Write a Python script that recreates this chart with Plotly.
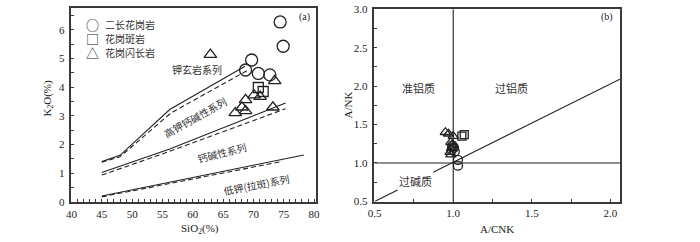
import plotly.graph_objects as go

W, H = 700, 242

# ---------------- data: panel (a) SiO2 vs K2O ----------------
series_names = ["二长花岗岩", "花岗斑岩", "花岗闪长岩"]
legend_glyphs = ["○", "□", "△"]

a_circle_sio2 = [74.4, 74.9, 69.7, 68.7, 70.8, 72.7]
a_circle_k2o = [6.28, 5.43, 4.95, 4.60, 4.48, 4.43]
a_square_sio2 = [70.8, 71.6]
a_square_k2o = [3.99, 3.85]
a_tri_sio2 = [62.9, 73.5, 70.1, 71.1, 68.7, 68.1, 67.0, 68.7, 73.2]
a_tri_k2o = [5.14, 4.22, 3.72, 3.67, 3.56, 3.30, 3.10, 3.17, 3.30]

# series boundaries (solid / dashed)
top_solid_x = [45, 48, 56.2, 68.6]
top_solid_y = [1.40, 1.62, 3.22, 4.73]
top_dash_x = [45, 48, 56.4, 69.2]
top_dash_y = [1.38, 1.57, 3.10, 4.61]
mid_solid_x = [45, 56.2, 75.3]
mid_solid_y = [1.02, 1.84, 3.45]
mid_dash_x = [45, 56.2, 75.3]
mid_dash_y = [0.93, 1.76, 3.25]
low_solid_x = [45, 78.3]
low_solid_y = [0.20, 1.63]
low_dash_x = [45, 74.8]
low_dash_y = [0.17, 1.41]

a_labels = ["钾玄岩系列", "高钾钙碱性系列", "钙碱性系列", "低钾(拉斑)系列"]
a_label_x = [60.7, 60.3, 64.8, 70.5]
a_label_y = [4.62, 2.95, 1.71, 0.61]
a_label_angle = [0, -29, -14, -11]

a_xticks = [40, 45, 50, 55, 60, 65, 70, 75, 80]
a_yticks = [0, 1, 2, 3, 4, 5, 6]

# ---------------- data: panel (b) A/CNK vs A/NK ----------------
b_circle_acnk = [0.995, 1.005, 0.99, 1.01, 1.03, 1.03]
b_circle_ank = [1.23, 1.20, 1.17, 1.15, 1.04, 0.965]
b_square_acnk = [1.055, 1.07]
b_square_ank = [1.35, 1.37]
b_tri_acnk = [0.95, 0.97, 1.00, 0.985, 0.995, 1.00, 0.99, 0.98, 0.985]
b_tri_ank = [1.40, 1.38, 1.35, 1.27, 1.24, 1.21, 1.19, 1.14, 1.11]

b_diag_x = [0.5, 2.06]
b_diag_y = [0.5, 2.09]
b_vline_x = [1.0, 1.0]
b_vline_y = [0.5, 3.0]
b_hline_x = [0.5, 2.06]
b_hline_y = [1.0, 1.0]

b_labels = ["准铝质", "过铝质", "过碱质"]
b_label_x = [0.78, 1.37, 0.76]
b_label_y = [1.98, 1.98, 0.76]

b_xticks = [0.5, 1.0, 1.5, 2.0]
b_yticks = [0.5, 1.0, 1.5, 2.0, 2.5, 3.0]

# ---------------- figure ----------------
LC = "#222222"
FRAME = "#3a3a3a"
SERIF = "Liberation Serif, Times New Roman, serif"
CJK = "Noto Sans CJK SC"

fig = go.Figure()

def line(x, y, xa, ya, dash="solid"):
    fig.add_trace(go.Scatter(x=x, y=y, mode="lines", xaxis=xa, yaxis=ya,
                             line=dict(color=LC, width=1.1, dash=dash),
                             showlegend=False, hoverinfo="skip"))

line(top_solid_x, top_solid_y, "x", "y")
line(top_dash_x, top_dash_y, "x", "y", "5px,3px")
line(mid_solid_x, mid_solid_y, "x", "y")
line(mid_dash_x, mid_dash_y, "x", "y", "5px,3px")
line(low_solid_x, low_solid_y, "x", "y")
line(low_dash_x, low_dash_y, "x", "y", "5px,3px")

line(b_diag_x, b_diag_y, "x2", "y2")
line(b_vline_x, b_vline_y, "x2", "y2")
line(b_hline_x, b_hline_y, "x2", "y2")

fig.add_trace(go.Scatter(x=a_circle_sio2, y=a_circle_k2o, mode="markers", name=series_names[0],
                         marker=dict(symbol="circle-open", size=12, color=LC, line=dict(width=1.3)),
                         xaxis="x", yaxis="y"))
fig.add_trace(go.Scatter(x=a_square_sio2, y=a_square_k2o, mode="markers", name=series_names[1],
                         marker=dict(symbol="square-open", size=10, color=LC, line=dict(width=1.3)),
                         xaxis="x", yaxis="y"))
fig.add_trace(go.Scatter(x=a_tri_sio2, y=a_tri_k2o, mode="markers", name=series_names[2],
                         marker=dict(symbol="triangle-up-open", size=11, color=LC, line=dict(width=1.3)),
                         xaxis="x", yaxis="y"))

fig.add_trace(go.Scatter(x=b_circle_acnk, y=b_circle_ank, mode="markers", name=series_names[0],
                         marker=dict(symbol="circle-open", size=9, color=LC, line=dict(width=1.3)),
                         xaxis="x2", yaxis="y2"))
fig.add_trace(go.Scatter(x=b_square_acnk, y=b_square_ank, mode="markers", name=series_names[1],
                         marker=dict(symbol="square-open", size=8, color=LC, line=dict(width=1.3)),
                         xaxis="x2", yaxis="y2"))
fig.add_trace(go.Scatter(x=b_tri_acnk, y=b_tri_ank, mode="markers", name=series_names[2],
                         marker=dict(symbol="triangle-up-open", size=9, color=LC, line=dict(width=1.3)),
                         xaxis="x2", yaxis="y2"))

annotations = []
for t, x, y, ang in zip(a_labels, a_label_x, a_label_y, a_label_angle):
    annotations.append(dict(text=t, x=x, y=y, xref="x", yref="y", showarrow=False,
                            textangle=ang, font=dict(family=CJK, size=10, color="#333")))
for i, (t, x, y) in enumerate(zip(b_labels, b_label_x, b_label_y)):
    ann = dict(text=t, x=x, y=y, xref="x2", yref="y2", showarrow=False,
               font=dict(family=CJK, size=11, color="#333"))
    if i == 2:
        ann["bgcolor"] = "white"
    annotations.append(ann)

def pa(text, px, py, size=11, angle=0, family=SERIF, xanchor="center", color="#222"):
    annotations.append(dict(text=text, x=px / W, y=1 - py / H, xref="paper", yref="paper",
                            showarrow=False, textangle=angle, xanchor=xanchor, yanchor="middle",
                            font=dict(family=family, size=size, color=color)))

# manual legend (glyph + name)
for k, (g, name) in enumerate(zip(legend_glyphs, series_names)):
    py = 19 + 15 * k
    pa(g, 87, py, 13, family=CJK, color="#222")
    pa(name, 98, py, 10, family=CJK, xanchor="left", color="#333")

pa("(a)", 302, 12, 10)
pa("(b)", 610, 12, 10)
pa("SiO<sub>2</sub>(%)", 196, 235, 11)
pa("K<sub>2</sub>O(%)", 42, 97, 11, -90)
pa("A/CNK", 498, 235, 11)
pa("A/NK", 346, 104, 11, -90)

axis_common = dict(showline=True, linecolor=FRAME, linewidth=1.5, mirror=True,
                   showgrid=False, zeroline=False, ticks="inside", ticklen=3,
                   tickcolor=FRAME, tickwidth=1, ticklabeloverflow="allow",
                   tickfont=dict(family=SERIF, size=11, color="#222"))

fig.update_layout(
    width=W, height=H,
    margin=dict(l=0, r=0, t=0, b=0),
    paper_bgcolor="white", plot_bgcolor="white",
    showlegend=False,
    xaxis=dict(axis_common, domain=[65.5 / W, 314 / W], range=[40, 80.32],
               tickvals=a_xticks, ticklabelstandoff=1,
               minor=dict(ticks="inside", ticklen=3, dtick=1, tick0=40, tickcolor=FRAME)),
    yaxis=dict(axis_common, domain=[1 - 206 / H, 1 - 2.3 / H], range=[-0.003, 6.76],
               tickvals=a_yticks, ticklabelstandoff=3,
               minor=dict(ticks="inside", ticklen=3, dtick=0.5, tick0=0, tickcolor=FRAME)),
    xaxis2=dict(axis_common, anchor="y2", domain=[373.3 / W, 622.7 / W], range=[0.499, 2.06],
                tickvals=b_xticks, ticktext=["0.5", "1.0", "1.5", "2.0"], ticklabelstandoff=1,
                minor=dict(ticks="inside", ticklen=3, dtick=0.25, tick0=0.5, tickcolor=FRAME)),
    yaxis2=dict(axis_common, anchor="x2", domain=[1 - 205.7 / H, 1 - 3.3 / H], range=[0.499, 3.001],
                tickvals=b_yticks, ticktext=["0.5", "1.0", "1.5", "2.0", "2.5", "3.0"], ticklabelstandoff=3,
                minor=dict(ticks="inside", ticklen=3, dtick=0.25, tick0=0.5, tickcolor=FRAME)),
    annotations=annotations,
)

fig.write_html("out.html", config={"displayModeBar": False},
               post_script="document.body.style.margin='0';")
